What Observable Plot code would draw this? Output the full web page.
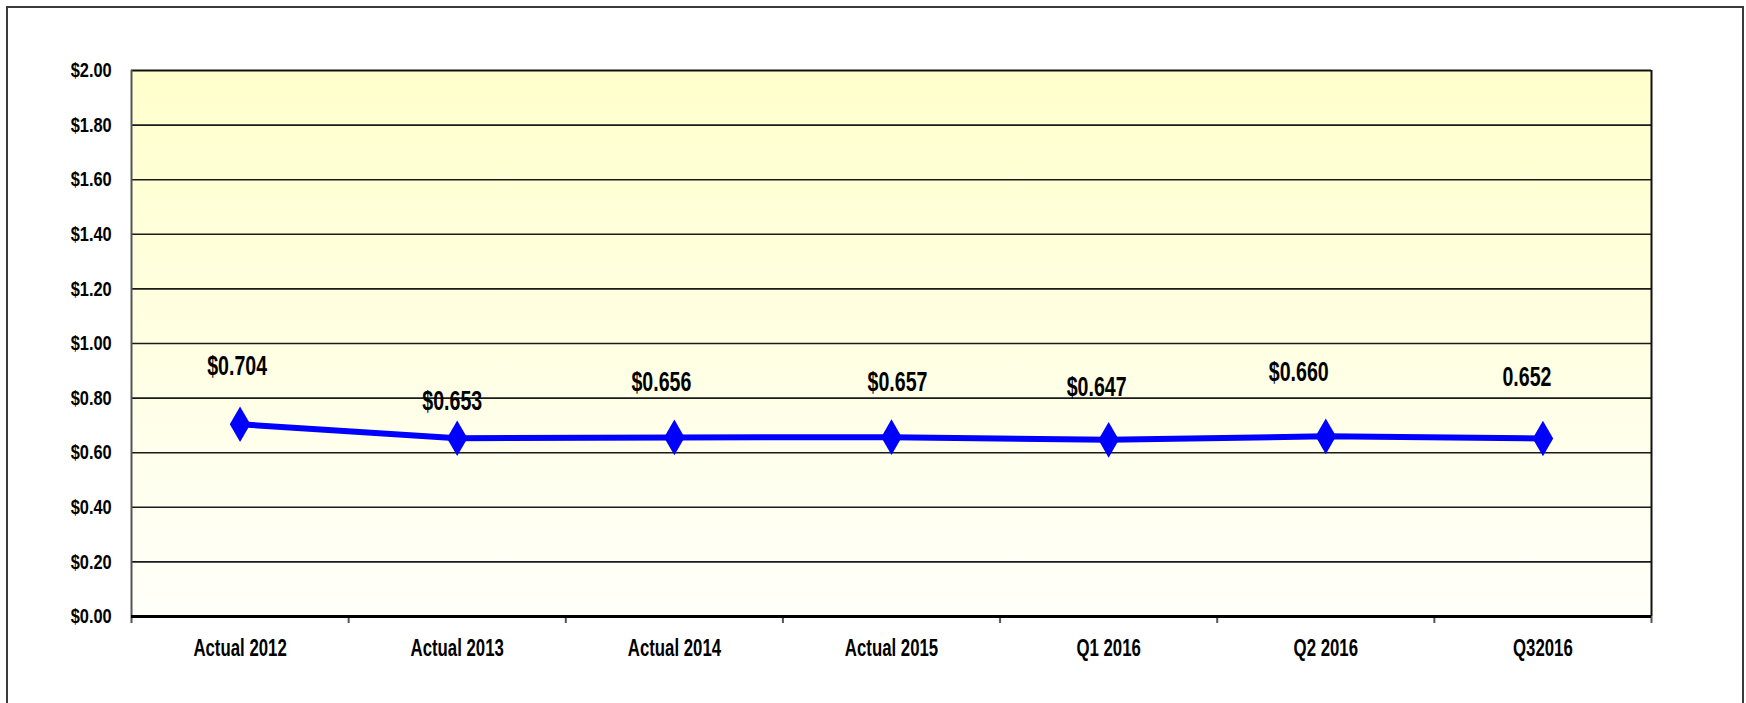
<!DOCTYPE html>
<html><head><meta charset="utf-8">
<script src="https://cdn.jsdelivr.net/npm/d3@7"></script>
<script src="https://cdn.jsdelivr.net/npm/@observablehq/plot@0.6"></script>
<style>
html,body{margin:0;padding:0;background:#fff;overflow:hidden}
#wrap{position:relative;width:1746px;height:703px}
#border{position:absolute;left:6px;top:6px;width:1734px;height:720px;border:2px solid #3a3a3a;pointer-events:none}
#wrap svg{position:absolute;left:0;top:0}
</style></head><body><div id="wrap"><div id="border"></div></div>
<script>
const categories = ["Actual 2012", "Actual 2013", "Actual 2014", "Actual 2015", "Q1 2016", "Q2 2016", "Q32016"];
const values = [0.704, 0.653, 0.656, 0.657, 0.647, 0.660, 0.652];
const labels = ["$0.704", "$0.653", "$0.656", "$0.657", "$0.647", "$0.660", "0.652"];
const yTicks = [0, 0.2, 0.4, 0.6, 0.8, 1.0, 1.2, 1.4, 1.6, 1.8, 2.0];
// label placement offsets (px) relative to each point
const labelOffsets = [[-3, -58], [-5, -37], [-13, -55], [6, -55], [-12, -53], [-27, -64], [-16, -61]];

const data = categories.map((c, i) => ({i, cat: c, value: values[i], label: labels[i]}));
const font = '"Liberation Sans", Arial, sans-serif';
const px = d => d.i + 0.5;

const plot = Plot.plot({
  width: 1746, height: 703,
  marginLeft: 131, marginRight: 95, marginTop: 70, marginBottom: 87,
  style: {fontFamily: font, fontWeight: "bold", fontSize: "20px", color: "#000", background: "transparent", overflow: "visible"},
  x: {type: "linear", domain: [0, categories.length], label: null},
  y: {domain: [0, 2], label: null},
  marks: [
    Plot.frame({fill: "url(#bgGrad)", stroke: null}),
    Plot.gridY(yTicks.filter(t => t > 0 && t < 2), {stroke: "#1a1a1a", strokeOpacity: 1, strokeWidth: 1.6}),
    Plot.ruleY([2], {stroke: "#111", strokeWidth: 2}),
    Plot.ruleX([0], {stroke: "#555", strokeWidth: 2}),
    Plot.ruleX([categories.length], {stroke: "#111", strokeWidth: 2}),
    Plot.axisY({ticks: yTicks, tickSize: 0, tickPadding: 14, label: null, tickFormat: d => "$" + d.toFixed(2), fontSize: 21, fontWeight: "bold"}),
    Plot.axisX({ticks: categories.map((c, i) => i + 0.5), tickSize: 0, tickPadding: 22, label: null, tickFormat: d => categories[Math.floor(d)], fontSize: 24, fontWeight: "bold"}),
    Plot.axisX({ticks: d3.range(categories.length + 1), tickSize: 7, label: null, tickFormat: () => "", stroke: "#555", strokeWidth: 2}),
    Plot.ruleY([0], {stroke: "#000", strokeWidth: 3}),
    Plot.line(data, {x: px, y: "value", stroke: "#0000FF", strokeWidth: 6}),
    Plot.dot(data, {x: px, y: "value", symbol: "diamond", r: 10.8, fill: "#0000FF", stroke: null}),
    ...data.map((d, k) => Plot.text([d], {x: px, y: "value", text: "label", dx: labelOffsets[k][0], dy: labelOffsets[k][1], fontSize: 28, fontWeight: "bold", fill: "#000"}))
  ]
});
d3.select(plot).insert("defs", ":first-child").html(
  '<linearGradient id="bgGrad" x1="0" y1="0" x2="0" y2="1"><stop offset="0" stop-color="#FFFFCC"/><stop offset="1" stop-color="#FFFFFA"/></linearGradient>'
);
document.getElementById("wrap").appendChild(plot);
// condense the text horizontally (narrow face look), each around its own centre
function condense(sel, s) {
  d3.select(plot).selectAll(sel).each(function() {
    const b = this.getBBox();
    if (!b.width) return;
    const cx = b.x + b.width / 2;
    const t = this.getAttribute("transform") || "";
    this.setAttribute("transform", `${t} translate(${cx},0) scale(${s},1) translate(${-cx},0)`);
  });
}
condense('g[aria-label="y-axis tick label"] text', 0.78);
condense('g[aria-label="x-axis tick label"] text', 0.70);
condense('g[aria-label="text"] text', 0.70);
</script>
</body></html>
